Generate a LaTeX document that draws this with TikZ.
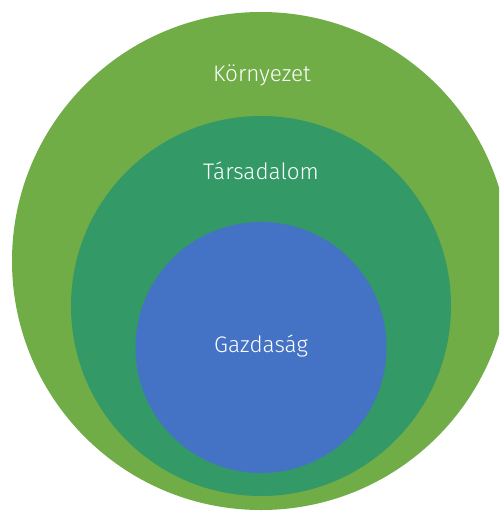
\documentclass[tikz,border=0pt]{standalone}
\usepackage{fontspec}
\setmainfont{Fira Sans}[UprightFont=* Light]
\usepackage{tikz}
\usepackage{color}

\definecolor{kornyezet}{HTML}{70AD47}
\definecolor{tarsadalom}{HTML}{339966}
\definecolor{gazdasag}{HTML}{4472C4}

\begin{document}
\begin{tikzpicture}[x=1pt,y=-1pt,label/.style={text=white,font=\fontsize{22.5}{26}\selectfont}]
	% page frame
		\clip (0,0) rectangle (499,511);
		\useasboundingbox (0,0) rectangle (499,511);
	% outer circle
		\fill[kornyezet] (261,261) circle (249);
		\node[label] (kornyezet) at (262,75) {Környezet};
	% middle circle
		\fill[tarsadalom] (261,306) circle (190);
		\node[label] (tarsadalom) at (261,171) {Társadalom};
	% inner circle
		\fill[gazdasag] (261,347.5) circle (125.5);
		\node[label] (gazdasag) at (261,346) {Gazdaság};
\end{tikzpicture}
\end{document}
